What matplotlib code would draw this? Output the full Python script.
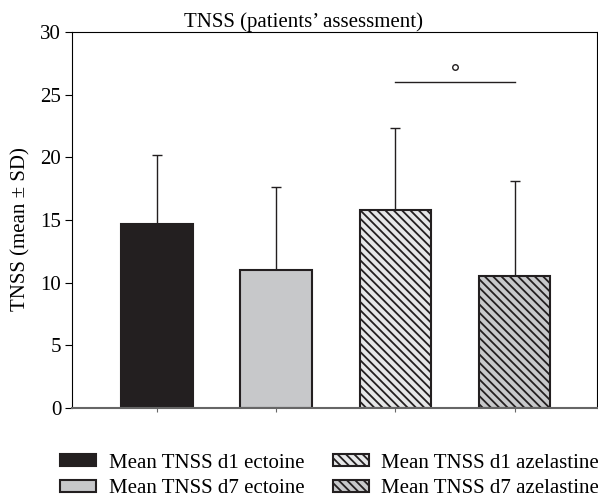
import numpy as np
import matplotlib
matplotlib.use("Agg")
import matplotlib.pyplot as plt
from matplotlib import rcParams
rcParams['font.family'] = 'serif'
rcParams['font.serif'] = ['Liberation Serif', 'DejaVu Serif']
rcParams['font.size'] = 15
rcParams['hatch.linewidth'] = 1.3

labels = ["Mean TNSS d1 ectoine", "Mean TNSS d7 ectoine",
          "Mean TNSS d1 azelastine", "Mean TNSS d7 azelastine"]
means = [14.7, 11.0, 15.8, 10.5]
sds = [5.5, 6.6, 6.5, 7.6]
colors = ['#231f20', '#c7c8ca', '#e6e7e8', '#c8c9cb']
hatches = [None, None, '\\\\\\\\', '\\\\\\\\']

fig = plt.figure(figsize=(5.98, 4.98), dpi=100)
ax = fig.add_axes([0.121, 0.181, 0.877, 0.755])

x = np.arange(len(means))
bars = []
for i in range(len(means)):
    b = ax.bar(x[i], means[i], width=0.6, color=colors[i], edgecolor='#231f20',
               linewidth=1.5, hatch=hatches[i], label=labels[i], zorder=2)
    bars.append(b)
ax.errorbar(x, means, yerr=[np.zeros(len(sds)), sds], fmt='none',
            ecolor='#231f20', elinewidth=1.0, capsize=3.5, capthick=1.0, zorder=1)

# significance bracket between azelastine d1 and d7
ax.plot([2, 3], [26, 26], color='#231f20', lw=1.0)
ax.plot([2.5], [27.2], marker='o', ms=4, mfc='white', mec='#231f20', mew=1.0)

ax.set_xlim(-0.71, 3.69)
ax.set_ylim(0, 30)
ax.set_yticks([0, 5, 10, 15, 20, 25, 30])
ax.set_xticks(x)
ax.set_xticklabels([])
ax.tick_params(axis='x', length=3, color='#666666')
ax.tick_params(axis='y', length=5, labelsize=15, pad=3)
ax.spines['bottom'].set_color('#666666')
ax.spines['bottom'].set_linewidth(1.5)
ax.set_ylabel("TNSS (mean ± SD)", fontsize=15)
ax.yaxis.set_label_coords(-0.08, 0.476)
ax.set_title("TNSS (patients\u2019 assessment)", fontsize=15, pad=3, x=0.44)

fig.legend(handles=[b[0] for b in bars], labels=labels, ncol=2,
           loc='lower left', bbox_to_anchor=(0.1, 0.0), frameon=False,
           fontsize=15, handlelength=1.75, handleheight=0.5, handletextpad=0.6,
           columnspacing=1.35, labelspacing=0.3, borderpad=0, borderaxespad=0)

fig.savefig("out.png", dpi=100)
